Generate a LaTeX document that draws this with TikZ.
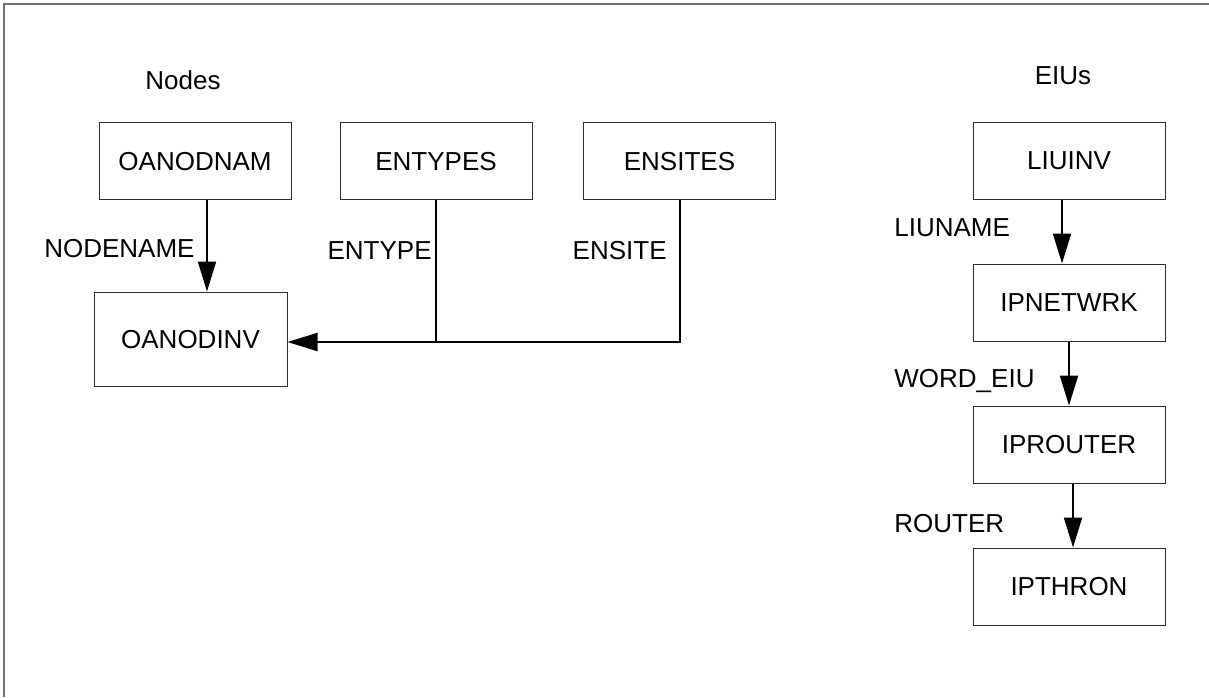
\documentclass[tikz,border=0pt]{standalone}
\usepackage{fontspec}
\setmainfont{Liberation Sans}
\usepackage{tikz}
\usetikzlibrary{arrows.meta, positioning}
\definecolor{frameGray}{RGB}{110,110,110}
\definecolor{boxLine}{RGB}{45,45,45}

\begin{document}
\begin{tikzpicture}[x=0.5pt, y=-0.5pt,
  tbl/.style={draw=boxLine, line width=0.5pt, minimum width=96pt, minimum height=38.5pt,
    inner sep=0pt, font=\fontsize{13}{15}\selectfont, text height=9.3pt, text depth=0pt},
  fld/.style={inner sep=0pt, font=\fontsize{13}{15}\selectfont, text height=9.3pt, text depth=0pt},
  wire/.style={line width=1pt},
  link/.style={wire, -{Triangle[length=15pt, width=9pt]}}]
  \useasboundingbox (0,0) rectangle (1209,697);

  % frame — only left and top edges show
  \draw[frameGray, line width=1pt] (4,697) -- (4,4) -- (1209,4);

  % titles
  \node[fld] (nodesttl) at (183,80) {Nodes};
  \node[fld] (eiusttl) at (1063,75) {EIUs};

  % node tables
  \node[tbl] (oanodnam) at (195,161) {OANODNAM};
  \node[tbl] (entypes) at (436,161) {ENTYPES};
  \node[tbl] (ensites) at (679.5,161) {ENSITES};
  \node[tbl, minimum width=96.5pt, minimum height=47pt] (oanodinv) at (190.5,339) {OANODINV};

  \coordinate (drop) at ([xshift=6pt]oanodnam.south);
  \draw[link] (drop) -- (drop |- oanodinv.north);
  \coordinate (join) at ([yshift=-1.5pt]oanodinv.east);
  \draw[link] (ensites.south) |- (join);
  \draw[wire] (entypes.south) -- (entypes.south |- join);

  \node[fld, anchor=east] (nodename) at (195,248) {NODENAME};
  \node[fld, anchor=east] (entype) at (432,250) {ENTYPE};
  \node[fld, anchor=east] (ensite) at (667,250) {ENSITE};

  % EIU tables
  \node[tbl] (liuinv) at (1069,160.5) {LIUINV};
  \node[tbl, below=32pt of liuinv] (ipnetwrk) {IPNETWRK};
  \node[tbl, below=32pt of ipnetwrk] (iprouter) {IPROUTER};
  \node[tbl, below=32pt of iprouter] (ipthron) {IPTHRON};

  \draw[link] ([xshift=-3.5pt]liuinv.south) -- ([xshift=-3.5pt]ipnetwrk.north);
  \draw[link] (ipnetwrk.south) -- (iprouter.north);
  \draw[link] ([xshift=2pt]iprouter.south) -- ([xshift=2pt]ipthron.north);

  \node[fld, anchor=west] (liuname) at (894,227) {LIUNAME};
  \node[fld, anchor=west] (wordeiu) at (894,378) {WORD\_EIU};
  \node[fld, anchor=west] (router) at (894,523) {ROUTER};
\end{tikzpicture}
\end{document}
